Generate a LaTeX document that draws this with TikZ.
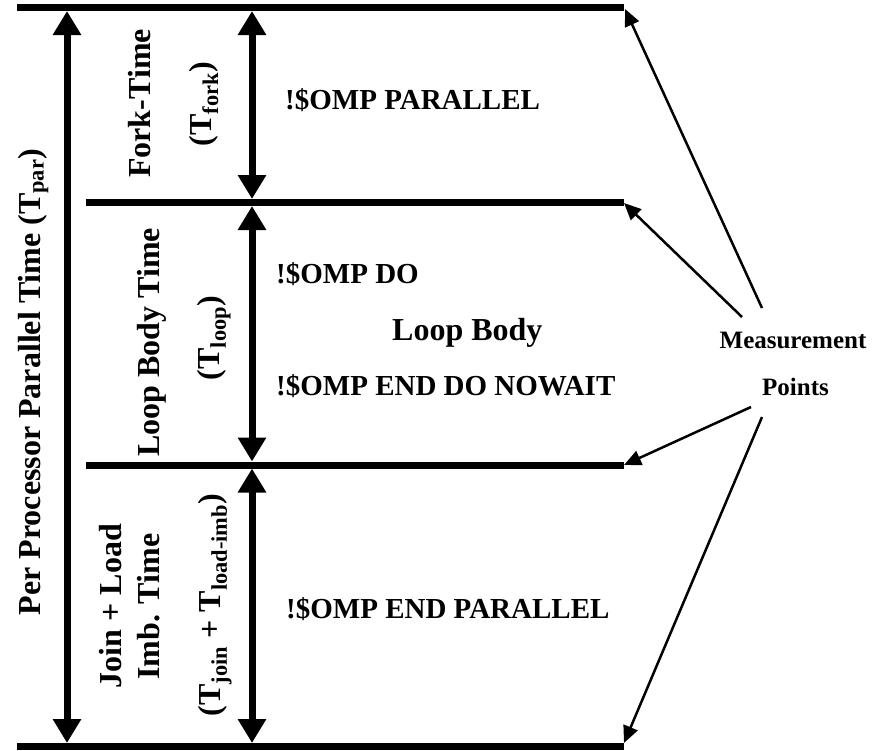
\documentclass[tikz,border=0pt]{standalone}
\usepackage{fontspec}
\setmainfont{Liberation Serif}
\usetikzlibrary{arrows.meta}
\begin{document}
\begin{tikzpicture}[x=1pt,y=-1pt,
  bar/.style={line width=7pt},
  dbl/.style={line width=7pt, {Triangle[width=27pt,length=24pt]}-{Triangle[width=27pt,length=24pt]}},
  ptr/.style={line width=2.5pt, -{Triangle[width=15pt,length=17pt]}},
  code/.style={font=\fontsize{29}{34}\selectfont\bfseries, inner sep=0pt, anchor=base west},
  big/.style={font=\fontsize{32}{38}\selectfont\bfseries, inner sep=0pt},
  lab/.style={big, rotate=90, anchor=base},
  meas/.style={font=\fontsize{25}{30}\selectfont\bfseries, inner sep=0pt, anchor=base}]
\useasboundingbox (0,0) rectangle (875,750);
% horizontal bars
\coordinate (tl) at (17,7.5);   \coordinate (tr) at (624,7.5);
\coordinate (al) at (86,202.5); \coordinate (ar) at (624,202.5);
\coordinate (bl) at (86,465);   \coordinate (br) at (624,465);
\coordinate (zl) at (17,746.5); \coordinate (zr) at (624,746.5);
\draw[bar] (tl) -- (tr);
\draw[bar] (al) -- (ar);
\draw[bar] (bl) -- (br);
\draw[bar] (zl) -- (zr);
% double arrows
\coordinate (o1) at (67,11);    \coordinate (o2) at (67,743);
\coordinate (f1) at (252,11);   \coordinate (f2) at (252,199);
\coordinate (l1) at (252,206);  \coordinate (l2) at (252,461.5);
\coordinate (j1) at (252,468.5);\coordinate (j2) at (252,743);
\draw[dbl] (o1) -- (o2);
\draw[dbl] (f1) -- (f2);
\draw[dbl] (l1) -- (l2);
\draw[dbl] (j1) -- (j2);
% rotated labels
\node[lab] (tpar) at (40,382) {Per Processor Parallel Time (T\textsubscript{par})};
\node[lab] (fork1) at (150,103.5) {Fork-Time};
\node[lab] (fork2) at (211,104) {(T\textsubscript{fork})};
\node[lab] (loop1) at (159,342.5) {Loop Body Time};
\node[lab] (loop2) at (219,338) {(T\textsubscript{loop})};
\node[lab] (join1) at (121,606) {Join + Load};
\node[lab] (join2) at (159,606.5) {Imb. Time};
\node[lab] (join3) at (220,605) {(T\textsubscript{join} + T\textsubscript{load-imb})};
% code texts
\node[code] (par) at (285,109) {!\$OMP PARALLEL};
\node[code] (do) at (276,283) {!\$OMP DO};
\node[big, anchor=base west] (body) at (392,340) {Loop Body};
\node[code] (enddo) at (276,395) {!\$OMP END DO NOWAIT};
\node[code] (endpar) at (286,618) {!\$OMP END PARALLEL};
% measurement points
\node[meas] (mp1) at (793,348) {Measurement};
\node[meas] (mp2) at (795.5,395) {Points};
\coordinate (s1) at (762,308); \coordinate (e1) at (625,9);
\coordinate (s2) at (742,317); \coordinate (e2) at (624,203);
\coordinate (s3) at (751,407); \coordinate (e3) at (624,465);
\coordinate (s4) at (762,417); \coordinate (e4) at (624,743);
\draw[ptr] (s1) -- (e1);
\draw[ptr] (s2) -- (e2);
\draw[ptr] (s3) -- (e3);
\draw[ptr] (s4) -- (e4);
\end{tikzpicture}
\end{document}
